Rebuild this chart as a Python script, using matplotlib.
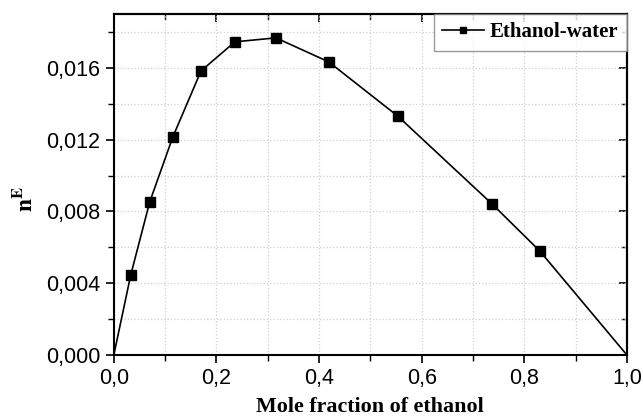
import numpy as np
import matplotlib.pyplot as plt
from matplotlib.ticker import MultipleLocator, FuncFormatter

plt.rcParams['font.family'] = 'Liberation Sans'
plt.rcParams['mathtext.fontset'] = 'stix'

# mole fraction of ethanol vs n^E
x = np.array([0.0, 0.033, 0.070, 0.115, 0.170, 0.236, 0.316, 0.419, 0.553, 0.737, 0.830, 1.0])
nE = np.array([0.0, 0.00446, 0.00853, 0.01215, 0.01583, 0.01745, 0.01767, 0.01633, 0.01332, 0.00842, 0.0058, 0.0])

fig = plt.figure(figsize=(6.43, 4.18), dpi=100)
ax = fig.add_axes([0.177, 0.1507, 0.798, 0.8158])

ax.plot(x, nE, color='black', linewidth=1.2, marker='s', markersize=6.5,
        markevery=list(range(1, len(x) - 1)), label='Ethanol-water')

ax.set_xlim(0, 1.0)
ax.set_ylim(0, 0.019)

ax.xaxis.set_major_locator(MultipleLocator(0.2))
ax.xaxis.set_minor_locator(MultipleLocator(0.1))
ax.yaxis.set_major_locator(MultipleLocator(0.004))
ax.yaxis.set_minor_locator(MultipleLocator(0.002))
ax.xaxis.set_major_formatter(FuncFormatter(lambda v, p: f"{v:.1f}".replace('.', ',')))
ax.yaxis.set_major_formatter(FuncFormatter(lambda v, p: f"{v:.3f}".replace('.', ',')))

ax.grid(which='both', color='#d0d0d0', linestyle=':', linewidth=0.9)
ax.tick_params(which='major', direction='out', length=6, width=1.2, labelsize=15.5)
ax.tick_params(which='minor', direction='out', length=4, width=1.0)

# mirrored ticks on top/right pointing in
top = ax.secondary_xaxis('top')
top.xaxis.set_major_locator(MultipleLocator(0.2))
top.xaxis.set_minor_locator(MultipleLocator(0.1))
top.tick_params(which='major', direction='in', length=6, width=1.2, labeltop=False)
top.tick_params(which='minor', direction='in', length=4, width=1.0)
right = ax.secondary_yaxis('right')
right.yaxis.set_major_locator(MultipleLocator(0.004))
right.yaxis.set_minor_locator(MultipleLocator(0.002))
right.tick_params(which='major', direction='in', length=6, width=1.2, labelright=False)
right.tick_params(which='minor', direction='in', length=4, width=1.0)

for s in list(ax.spines.values()) + [top.spines['top'], right.spines['right']]:
    s.set_linewidth(1.5)

ax.set_xlabel('Mole fraction of ethanol', fontfamily='Liberation Serif',
              fontweight='bold', fontsize=15.8)
ax.xaxis.set_label_coords(0.5, -0.166, transform=ax.transAxes)
ax.xaxis.label.set_va('baseline')
ax.set_ylabel(r'$\mathbf{n}^{\mathbf{E}}$', fontsize=17)
ax.yaxis.set_label_coords(-0.173, 0.457)
ax.yaxis.label.set_va('center')

leg = ax.legend(loc='upper right', borderaxespad=0, fancybox=False,
                prop={'family': 'Liberation Serif', 'weight': 'bold', 'size': 15},
                handlelength=2.0, handletextpad=0.3, markerscale=0.7)
leg.get_frame().set_edgecolor('#808080')
leg.get_frame().set_linewidth(1.0)

fig.savefig('out.png', dpi=100)
